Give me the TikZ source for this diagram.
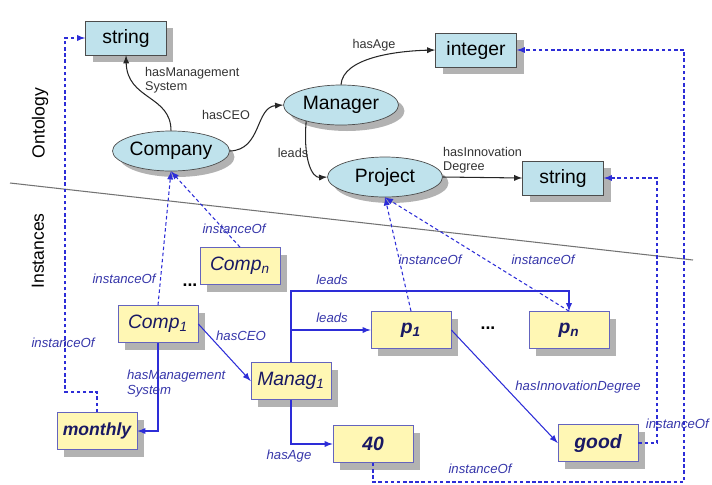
\documentclass[tikz,border=0pt]{standalone}
\usepackage{fontspec}
\setmainfont{Liberation Sans}
\usetikzlibrary{arrows,shapes}

\definecolor{clsblue}{RGB}{191,226,236}
\definecolor{instyellow}{RGB}{255,247,180}
\definecolor{instline}{RGB}{100,100,190}
\definecolor{instblue}{RGB}{45,45,215}
\definecolor{instnavy}{RGB}{25,25,100}
\definecolor{lblblue}{RGB}{55,55,170}

\begin{document}
\begin{tikzpicture}[x=0.02cm,y=-0.02cm,
  cls/.style={ellipse,draw=black!70,fill=clsblue,minimum width=2.3cm,minimum height=0.8cm,inner sep=0pt,font=\fontsize{11}{13}\selectfont},
  dt/.style={rectangle,draw=black!70,fill=clsblue,minimum width=1.62cm,minimum height=0.68cm,font=\fontsize{11}{13}\selectfont},
  inst/.style={rectangle,draw=instline,fill=instyellow,minimum width=1.6cm,minimum height=0.74cm,text=instnavy,font=\fontsize{11}{13}\selectfont\itshape},
  shbox/.style={rectangle,fill=black!30,inner sep=0pt},
  shell/.style={ellipse,fill=black!30,inner sep=0pt,minimum width=2.3cm,minimum height=0.8cm},
  bld/.style={font=\fontsize{11}{13}\selectfont\bfseries\itshape},
  rel/.style={-latex,black!85,line width=0.6pt},
  irel/.style={-latex,instblue,line width=0.6pt},
  io/.style={irel,dash pattern=on 2pt off 1.5pt},
  lbl/.style={font=\fontsize{7.2}{8.2}\selectfont,text=black!80,align=left,inner sep=1pt},
  ilbl/.style={font=\fontsize{7.5}{8.5}\selectfont\itshape,text=lblblue,align=left,inner sep=1pt}
]
\useasboundingbox (0,0) rectangle (712,484);

% shadows
\foreach \sx/\sy [count=\i] in {133/45,483/57,570/185}
  \node[shbox,minimum width=1.62cm,minimum height=0.68cm] (shd\i) at (\sx,\sy) {};
\foreach \sx/\sy [count=\i] in {177/157,347/111,391/183}
  \node[shell] (she\i) at (\sx,\sy) {};
\foreach \sx/\sy [count=\i] in {165/331,247/273,104/438,298/388,380/451,418/337,576/337,605/450}
  \node[shbox,minimum width=1.6cm,minimum height=0.74cm] (shi\i) at (\sx,\sy) {};

% ontology
\node[dt] (str1) at (126,38) {string};
\node[dt] (int) at (476,50) {integer};
\node[dt] (str2) at (563,178) {string};
\node[cls] (comp) at (171,151) {Company};
\node[cls] (mgr) at (341,105) {Manager};
\node[cls] (proj) at (385,177) {Project};

\node[rotate=90,font=\fontsize{10}{12}\selectfont] (onto) at (40,123) {Ontology};
\node[rotate=90,font=\fontsize{10}{12}\selectfont] (insts) at (38,251) {Instances};
\draw[black!55,line width=0.6pt] (10,183) -- (693,260);

\draw[rel] (comp.north) .. controls (171,95) and (127,100) .. (str1.south);
\node[lbl,anchor=north west] (lms) at (143,65) {hasManagement\\System};
\draw[rel] (comp.east) .. controls (262,150) and (255,107) .. (mgr.west);
\node[lbl] (lceo) at (226,115) {hasCEO};
\draw[rel] (mgr.north) .. controls (343,58) and (395,51) .. (int.west);
\node[lbl] (lage) at (374,45) {hasAge};
\draw[rel] (mgr.205) .. controls (303,160) and (312,178) .. (proj.west);
\node[lbl] (llead) at (293,153) {leads};
\draw[rel] (proj.east) -- (str2.west);
\node[lbl,anchor=north west] (lid) at (441,145) {hasInnovation\\Degree};

% instances
\node[inst] (comp1) at (158,324) {Comp\textsubscript{1}};
\node[inst] (compn) at (240,266) {Comp\textsubscript{n}};
\node[inst,bld,font=\fontsize{10}{12}\selectfont\bfseries\itshape] (monthly) at (97,431) {monthly};
\node[inst] (manag1) at (291,381) {Manag\textsubscript{1}};
\node[inst,bld] (forty) at (373,444) {40};
\node[inst,bld] (p1) at (411,330) {p\textsubscript{1}};
\node[inst,bld] (pn) at (569,330) {p\textsubscript{n}};
\node[inst,bld] (good) at (598,443) {good};
\node[font=\bfseries] (dots1) at (190,285) {...};
\node[font=\bfseries] (dots2) at (488,328) {...};

\coordinate (lp) at (291,291);
\coordinate (lq) at (291,330);

\draw[irel] (comp1.east) -- (manag1.west);
\node[ilbl] (ihceo) at (241,336) {hasCEO};
\draw[irel] (comp1.south) |- (monthly.east);
\node[ilbl,anchor=north west] (ihms) at (125,368) {hasManagement\\System};
\draw[irel] (manag1.north) -- (lp) -| (pn.north);
\node[ilbl] (ilead1) at (332,280) {leads};
\draw[irel] (lq) -- (p1.west);
\node[ilbl] (ilead2) at (332,318) {leads};
\draw[irel] (manag1.south) |- (forty.west);
\node[ilbl] (ihage) at (289,456) {hasAge};
\draw[irel] (p1.east) -- (good.west);
\node[ilbl] (ihid) at (578,387) {hasInnovationDegree};

% instanceOf
\draw[io] (comp1.north) -- (comp.south);
\node[ilbl] (io1) at (124,279) {instanceOf};
\draw[io] (compn.north) -- (comp.south);
\node[ilbl] (io2) at (234,229) {instanceOf};
\draw[io] (p1.north) -- (proj.south);
\node[ilbl] (io3) at (430,260) {instanceOf};
\draw[io] (pn.north) -- (proj.south);
\node[ilbl] (io4) at (543,260) {instanceOf};
\draw[io] (monthly.north) |- (65,392) |- (str1.west);
\node[ilbl] (io5) at (63,343) {instanceOf};
\draw[io] (forty.south) |- (684,482) |- (int.east);
\node[ilbl] (io6) at (480,469) {instanceOf};
\draw[io] (good.east) -| (657,178) -- (str2.east);
\node[ilbl,anchor=east] (io7) at (711,424) {instanceOf};
\end{tikzpicture}
\end{document}
